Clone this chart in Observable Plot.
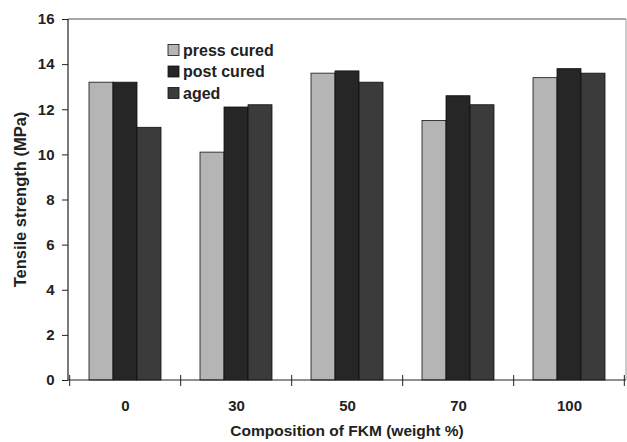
<!DOCTYPE html>
<html>
<head>
<meta charset="utf-8">
<script src="https://cdn.jsdelivr.net/npm/d3@7"></script>
<script src="https://cdn.jsdelivr.net/npm/@observablehq/plot@0.6"></script>
<style>
  html, body { margin: 0; padding: 0; background: #fff; }
  #chart { width: 627px; height: 442px; }
</style>
</head>
<body>
<div id="chart"></div>
<script>
// ---- data ----
const compositions = ["0", "30", "50", "70", "100"];
const seriesNames = ["press cured", "post cured", "aged"];
const pressCured = [13.2, 10.1, 13.6, 11.5, 13.4];
const postCured  = [13.2, 12.1, 13.7, 12.6, 13.8];
const aged       = [11.2, 12.2, 13.2, 12.2, 13.6];
const seriesColors = ["#b5b5b5", "#262626", "#3b3b3b"];
const yTicks = [0, 2, 4, 6, 8, 10, 12, 14, 16];
const yTitle = "Tensile strength (MPa)";
const xTitle = "Composition of FKM (weight %)";

const seriesValues = [pressCured, postCured, aged];
const rows = compositions.flatMap((c, i) =>
  seriesNames.map((s, j) => ({comp: c, series: s, value: seriesValues[j][i]}))
);

const font = "'Liberation Sans', Arial, Helvetica, sans-serif";

function makePlot(offset) {
  return Plot.plot({
    width: 627,
    height: 442,
    marginLeft: 68,
    marginRight: 1,
    marginTop: 19,
    marginBottom: 62,
    style: {fontFamily: font, fontWeight: "bold", fontSize: "15px", color: "#222", background: "#fff"},
    fx: {domain: compositions, paddingInner: 0.33, paddingOuter: 0.165},
    x: {domain: seriesNames, padding: 0, axis: null},
    y: {domain: [0, 16]},
    color: {domain: seriesNames, range: seriesColors},
    marks: [
      Plot.axisY({ticks: yTicks, tickSize: 6, tickPadding: 8, label: null, fontSize: 15, dx: -offset}),
      Plot.axisFx({anchor: "bottom", tickSize: 0, tickPadding: 20, label: null, fontSize: 15}),
      Plot.barY(rows, {fx: "comp", x: "series", y: "value", fill: "series", stroke: "#111", strokeWidth: 0.8})
    ]
  });
}

// first pass: find where the first facet starts relative to the frame
const probe = makePlot(0);
const pfx = probe.scale("fx");
const facetOffset = pfx.apply(pfx.domain[0]) - pfx.range[0];

const plot = makePlot(facetOffset);
document.getElementById("chart").appendChild(plot);

// ---- decorations drawn from the library's scales ----
const svg = d3.select(plot);
const ys = plot.scale("y");
const fxs = plot.scale("fx");
const y0 = ys.apply(0), yTop = ys.apply(16);
const [xl, xr] = fxs.range;
const yMid = (y0 + yTop) / 2;

// frame top & right (light)
svg.append("line").attr("x1", xl).attr("x2", xr).attr("y1", yTop).attr("y2", yTop)
  .attr("stroke", "#8a8a8a").attr("stroke-width", 1.6);
svg.append("line").attr("x1", xr).attr("x2", xr).attr("y1", yTop).attr("y2", y0)
  .attr("stroke", "#999").attr("stroke-width", 1);
// axes lines
svg.append("line").attr("x1", xl).attr("x2", xl).attr("y1", yTop).attr("y2", y0)
  .attr("stroke", "#222").attr("stroke-width", 1.2);
svg.append("line").attr("x1", xl).attr("x2", xr).attr("y1", y0).attr("y2", y0)
  .attr("stroke", "#222").attr("stroke-width", 1.2);
// category boundary ticks
const bounds = fxs.domain.map(d => fxs.apply(d) - fxs.step * fxs.paddingInner / 2);
bounds.push(fxs.apply(fxs.domain[fxs.domain.length - 1]) + fxs.bandwidth + fxs.step * fxs.paddingInner / 2);
svg.append("g").selectAll("line").data(bounds).join("line")
  .attr("x1", d => d).attr("x2", d => d).attr("y1", y0 - 5).attr("y2", y0 + 6)
  .attr("stroke", "#222").attr("stroke-width", 1);

// axis titles
svg.append("text")
  .attr("transform", `translate(${xl - 48},${yMid}) rotate(-90)`)
  .attr("text-anchor", "middle").attr("dy", "0.35em")
  .attr("font-family", font).attr("font-weight", "bold").attr("font-size", 16.5)
  .attr("fill", "#222").text(yTitle);
svg.append("text")
  .attr("x", (xl + xr) / 2).attr("y", y0 + 56)
  .attr("text-anchor", "middle")
  .attr("font-family", font).attr("font-weight", "bold").attr("font-size", 15.5)
  .attr("fill", "#222").text(xTitle);

// legend inside plot area
const col = plot.scale("color");
const lg = svg.append("g").attr("transform", `translate(${xl + 100},${yTop + 31})`);
seriesNames.forEach((s, i) => {
  const g = lg.append("g").attr("transform", `translate(0,${i * 21.5})`);
  g.append("rect").attr("x", 0).attr("y", -5.5).attr("width", 11).attr("height", 11)
    .attr("fill", col.apply(s)).attr("stroke", "#111").attr("stroke-width", 0.8);
  g.append("text").attr("x", 15).attr("y", 0).attr("dy", "0.35em")
    .attr("text-anchor", "start")
    .attr("font-family", font).attr("font-weight", "bold").attr("font-size", 16)
    .attr("fill", "#222").text(s);
});
</script>
</body>
</html>
